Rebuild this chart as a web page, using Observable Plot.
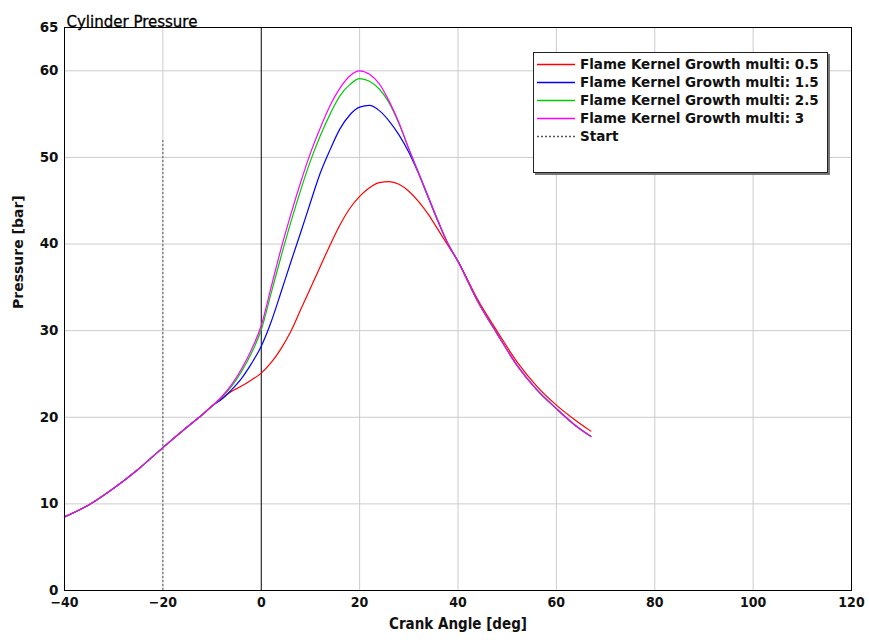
<!DOCTYPE html>
<html>
<head>
<meta charset="utf-8">
<script src="https://cdn.jsdelivr.net/npm/d3@7"></script>
<script src="https://cdn.jsdelivr.net/npm/@observablehq/plot@0.6"></script>
<style>
  body { margin: 0; background: #fff; }
  #wrap { position: relative; width: 869px; height: 640px; }
  #legend {
    position: absolute; left: 533px; top: 52px; width: 293px; height: 119px;
    border: 1px solid #222; background: #fff; box-shadow: 2px 2px 0 #777;
    font: bold 13.5px "DejaVu Sans", sans-serif; color: #111;
  }
  .row { position: absolute; left: 3px; height: 18px; display: flex; align-items: center; white-space: nowrap; }
  .row svg { display: block; margin-right: 5px; }
  svg [aria-label="x-axis tick label"] { font-family: "DejaVu Sans Condensed", "DejaVu Sans", sans-serif; font-weight: bold; font-size: 14px; }
  svg [aria-label="y-axis tick label"] { font-family: "DejaVu Sans", sans-serif; font-weight: bold; font-size: 13.5px; }
</style>
</head>
<body>
<div id="wrap"></div>
<script>
// ---- data ----
const angleCommon = [-40, -35, -30, -25, -20, -15, -12];
const pressureCommon = [8.5, 9.9, 11.8, 14.0, 16.5, 18.9, 20.3];

const angle = [-10, -8, -6, -4, -2, 0, 2, 4, 6, 8, 10, 12, 14, 16, 18, 20, 22, 24, 26, 28, 30, 32, 34, 36, 38, 40, 44, 48, 52, 56, 60, 64, 67];

const p05 = [21.3, 22.2, 23.0, 23.6, 24.3, 25.1, 26.3, 27.9, 29.9, 32.4, 34.9, 37.4, 39.9, 42.2, 44.1, 45.5, 46.5, 47.1, 47.2, 46.9, 46.1, 44.9, 43.4, 41.6, 39.8, 38.0, 33.6, 29.9, 26.4, 23.6, 21.4, 19.6, 18.4];
const p15 = [21.3, 22.1, 23.2, 24.5, 26.2, 28.2, 31.0, 34.4, 37.9, 41.3, 44.8, 48.2, 50.9, 53.3, 54.9, 55.8, 56.0, 55.4, 54.2, 52.6, 50.6, 48.1, 45.3, 42.5, 40.0, 38.0, 33.4, 29.6, 26.0, 23.2, 21.0, 19.0, 17.8];
const p25 = [21.3, 22.3, 23.6, 25.3, 27.4, 30.1, 34.3, 38.5, 42.5, 46.2, 49.6, 52.5, 55.0, 57.1, 58.4, 59.1, 58.8, 57.9, 56.3, 53.9, 51.0, 48.2, 45.4, 42.6, 40.0, 38.0, 33.4, 29.6, 26.0, 23.2, 21.0, 19.0, 17.8];
const p3  = [21.3, 22.4, 23.8, 25.6, 27.8, 30.6, 35.0, 39.4, 43.4, 47.1, 50.5, 53.4, 56.0, 58.0, 59.4, 60.0, 59.6, 58.5, 56.5, 54.0, 51.0, 48.2, 45.4, 42.6, 40.0, 38.0, 33.4, 29.6, 26.0, 23.2, 21.0, 19.0, 17.8];

const seriesNames = [
  "Flame Kernel Growth multi: 0.5",
  "Flame Kernel Growth multi: 1.5",
  "Flame Kernel Growth multi: 2.5",
  "Flame Kernel Growth multi: 3"
];
const seriesValues = [p05, p15, p25, p3];
const seriesColors = ["#ff0000", "#0000ff", "#00cc00", "#ff00ff"];

const startLabel = "Start";
const startAngle = [-20];
const startTop = [52];

const xTicks = [-40, -20, 0, 20, 40, 60, 80, 100, 120];
const yTicks = [0, 10, 20, 30, 40, 50, 60, 65];

const titleText = "Cylinder Pressure";
const xLabel = "Crank Angle [deg]";
const yLabel = "Pressure [bar]";

// ---- build rows ----
const rows = [];
seriesNames.forEach((name, s) => {
  angleCommon.forEach((a, i) => rows.push({series: name, angle: a, pressure: pressureCommon[i]}));
  angle.forEach((a, i) => rows.push({series: name, angle: a, pressure: seriesValues[s][i]}));
});
const startRows = startAngle.map((a, i) => ({angle: a, top: startTop[i]}));

const chart = Plot.plot({
  width: 869,
  height: 640,
  marginLeft: 64,
  marginRight: 18,
  marginTop: 27,
  marginBottom: 50,
  x: {domain: [-40, 120]},
  y: {domain: [0, 65]},
  color: {domain: seriesNames, range: seriesColors},
  style: {fontFamily: "DejaVu Sans, sans-serif", background: "white", color: "#111"},
  marks: [
    Plot.ruleX(xTicks.filter(d => d > -40 && d < 120 && d !== 0), {stroke: "#cccccc"}),
    Plot.ruleY(yTicks.filter(d => d > 0 && d < 65), {stroke: "#cccccc"}),
    Plot.ruleX([0], {stroke: "black"}),
    Plot.ruleX(startRows, {x: "angle", y1: 0, y2: "top", stroke: "#555", strokeDasharray: "2,2"}),
    Plot.line(rows, {x: "angle", y: "pressure", z: "series", stroke: "series", strokeWidth: 1.2, curve: "monotone-x"}),
    Plot.frame({stroke: "black"}),
    Plot.axisX({ticks: xTicks, tickSize: 0, tickPadding: 7, label: null, fontSize: 14, fontWeight: "bold", fontFamily: "DejaVu Sans Condensed"}),
    Plot.axisY({ticks: yTicks, tickSize: 0, tickPadding: 6, label: null, fontSize: 13.5, fontWeight: "bold"}),
    Plot.text([xLabel], {frameAnchor: "bottom", dy: 38, fontSize: 15, fontWeight: "bold", fontFamily: "DejaVu Sans Condensed", fill: "#111"}),
    Plot.text([yLabel], {frameAnchor: "left", rotate: -90, dx: -46, fontSize: 14, fontWeight: "bold", fill: "#111"}),
    Plot.text([titleText], {frameAnchor: "top-left", textAnchor: "start", dx: 2, dy: -11, fontSize: 15, fill: "#000", stroke: "#000", strokeWidth: 0.3})
  ]
});

const wrap = document.getElementById("wrap");
wrap.appendChild(chart);

// ---- legend ----
const legend = document.createElement("div");
legend.id = "legend";
const entries = seriesNames.map((n, i) => ({label: n, color: seriesColors[i], dash: null}))
  .concat([{label: startLabel, color: "#555", dash: "2,2"}]);
entries.forEach((e, i) => {
  const row = document.createElement("div");
  row.className = "row";
  row.style.top = (2 + i * 18.1) + "px";
  row.innerHTML = `<svg width="38" height="18"><line x1="0" x2="38" y1="9.5" y2="9.5" stroke="${e.color}" stroke-width="1.3" ${e.dash ? `stroke-dasharray="${e.dash}"` : ""}/></svg><span>${e.label}</span>`;
  legend.appendChild(row);
});
wrap.appendChild(legend);
</script>
</body>
</html>
